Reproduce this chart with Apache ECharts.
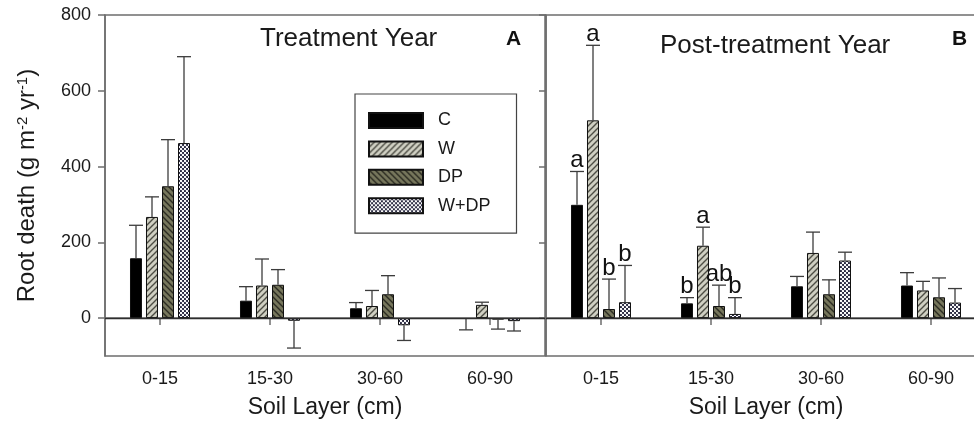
<!DOCTYPE html>
<html lang="en">
<head>
<meta charset="UTF-8">
<title>Root death</title>
<script src="https://cdn.jsdelivr.net/npm/echarts@6/dist/echarts.min.js"></script>
<style>
  html, body { margin: 0; padding: 0; background: #fff; }
  #chart { width: 974px; height: 421px; }
</style>
</head>
<body>
<div id="chart"></div>
<script>
var layers = ['0-15', '15-30', '30-60', '60-90'];
var treatments = ['C', 'W', 'DP', 'W+DP'];
var yTicks = [0, 200, 400, 600, 800];

// A: treatment year, means and SE
var treatC = [158, 46, 26, -2];
var treatW = [267, 86, 32, 35];
var treatDP = [348, 88, 63, -4];
var treatWDP = [462, -7, -19, -8];
var treatC_se = [87, 37, 15, 29];
var treatW_se = [53, 70, 41, 7];
var treatDP_se = [123, 40, 49, 25];
var treatWDP_se = [228, 72, 40, 26];

// B: post-treatment year
var postC = [299, 39, 84, 86];
var postW = [522, 191, 172, 73];
var postDP = [24, 32, 63, 55];
var postWDP = [42, 11, 152, 41];
var postC_se = [88, 15, 26, 34];
var postW_se = [198, 49, 55, 24];
var postDP_se = [79, 55, 38, 51];
var postWDP_se = [97, 43, 22, 37];

// letters over the post-treatment bars
var postC_sig = ['a', 'b', '', ''];
var postW_sig = ['a', 'a', '', ''];
var postDP_sig = ['b', 'ab', '', ''];
var postWDP_sig = ['b', 'b', '', ''];

var FONT = '"Liberation Sans", Arial, sans-serif';
var offsets = [-24, -8, 8, 24];

function hatch(bg, fg, up) {
  var c = document.createElement('canvas');
  c.width = 6; c.height = 6;
  var g = c.getContext('2d');
  g.fillStyle = bg; g.fillRect(0, 0, 6, 6);
  g.strokeStyle = fg; g.lineWidth = 1.4;
  g.beginPath();
  if (up) {
    g.moveTo(0, 6); g.lineTo(6, 0);
    g.moveTo(-3, 3); g.lineTo(3, -3);
    g.moveTo(3, 9); g.lineTo(9, 3);
  } else {
    g.moveTo(0, 0); g.lineTo(6, 6);
    g.moveTo(-3, 3); g.lineTo(3, 9);
    g.moveTo(3, -3); g.lineTo(9, 3);
  }
  g.stroke();
  return c;
}
function dots() {
  var c = document.createElement('canvas');
  c.width = 4; c.height = 4;
  var g = c.getContext('2d');
  g.fillStyle = '#26263e'; g.fillRect(0, 0, 4, 4);
  g.fillStyle = '#ffffff';
  g.beginPath(); g.arc(1, 1, 1.2, 0, Math.PI * 2); g.fill();
  g.beginPath(); g.arc(3, 3, 1.2, 0, Math.PI * 2); g.fill();
  return c;
}

var colors = [
  '#000000',
  { image: hatch('#cfcfc2', '#4d4d44', true), repeat: 'repeat' },
  { image: hatch('#76765c', '#2c2c22', false), repeat: 'repeat' },
  { image: dots(), repeat: 'repeat' }
];

function errData(vals, ses) {
  var out = [];
  for (var s = 0; s < vals.length; s++) {
    for (var i = 0; i < vals[s].length; i++) {
      out.push([i, s, vals[s][i], ses[s][i]]);
    }
  }
  return out;
}

function errRender(sig) {
  return function (params, api) {
    var cat = api.value(0), s = api.value(1), v = api.value(2), se = api.value(3);
    var end = v >= 0 ? v + se : v - se;
    var x = api.coord([cat, 0])[0] + offsets[s];
    var y0 = api.coord([cat, v])[1];
    var y1 = api.coord([cat, end])[1];
    var st = { stroke: '#3c3c3c', lineWidth: 1.3 };
    var kids = [
      { type: 'line', shape: { x1: x, y1: y0, x2: x, y2: y1 }, style: st },
      { type: 'line', shape: { x1: x - 7, y1: y1, x2: x + 7, y2: y1 }, style: st }
    ];
    if (sig && sig[s][cat]) {
      kids.push({
        type: 'text',
        style: { text: sig[s][cat], x: x, y: y1 + 1, align: 'center', verticalAlign: 'bottom',
          fontSize: 24, fontFamily: FONT, fill: '#111' }
      });
    }
    return { type: 'group', children: kids };
  };
}

var chart = echarts.init(document.getElementById('chart'));

var axisLineStyle = { color: '#6e6e6e', width: 1.5 };
function xAxis(idx) {
  return {
    type: 'category', gridIndex: idx, data: layers,
    axisLine: { show: true, lineStyle: axisLineStyle },
    axisTick: { show: true, alignWithLabel: true, length: 7, lineStyle: axisLineStyle },
    axisLabel: { fontSize: 18, fontFamily: FONT, color: '#1a1a1a', margin: 14 },
    name: 'Soil Layer (cm)', nameLocation: 'middle', nameGap: 40,
    nameTextStyle: { fontSize: 23, fontFamily: FONT, color: '#1a1a1a' }
  };
}
function yAxis(idx, withLabels) {
  var ax = {
    type: 'value', gridIndex: idx, min: -100, max: 800,
    splitLine: { show: false },
    axisLine: { show: true, lineStyle: axisLineStyle },
    axisTick: { show: true, length: 7, customValues: yTicks, lineStyle: axisLineStyle },
    axisLabel: { show: withLabels, customValues: yTicks, fontSize: 18, fontFamily: FONT, color: '#1a1a1a', margin: 14 }
  };
  if (withLabels) {
    ax.name = 'Root death (g m{s|-2} yr{s|-1})';
    ax.nameLocation = 'middle';
    ax.nameGap = 66;
    ax.nameRotate = 90;
    ax.nameTextStyle = {
      fontSize: 24, fontFamily: FONT, color: '#1a1a1a',
      rich: { s: { fontSize: 15, fontFamily: FONT, color: '#1a1a1a', verticalAlign: 'top', lineHeight: 14 } }
    };
  }
  return ax;
}

var series = [];
var setsA = [treatC, treatW, treatDP, treatWDP];
var setsB = [postC, postW, postDP, postWDP];
[setsA, setsB].forEach(function (sets, g) {
  sets.forEach(function (vals, s) {
    var item = {
      name: treatments[s], type: 'bar', xAxisIndex: g, yAxisIndex: g,
      data: vals, barWidth: 12, barGap: '33.4%',
      itemStyle: { color: colors[s], borderColor: '#111', borderWidth: 1 }
    };
    if (s === 0) {
      item.markLine = {
        silent: true, symbol: 'none', label: { show: false },
        lineStyle: { color: '#2e2e2e', width: 1.3, type: 'solid' },
        data: [{ yAxis: 0 }]
      };
    }
    series.push(item);
  });
});
series.push({
  name: 'errA', type: 'custom', xAxisIndex: 0, yAxisIndex: 0, z: 3,
  renderItem: errRender(null),
  data: errData(setsA, [treatC_se, treatW_se, treatDP_se, treatWDP_se])
});
series.push({
  name: 'errB', type: 'custom', xAxisIndex: 1, yAxisIndex: 1, z: 3,
  renderItem: errRender([postC_sig, postW_sig, postDP_sig, postWDP_sig]),
  data: errData(setsB, [postC_se, postW_se, postDP_se, postWDP_se])
});

chart.setOption({
  animation: false,
  grid: [
    { left: 105, top: 15, width: 440, height: 341, show: true, borderColor: '#6e6e6e', borderWidth: 1.5,
      outerBoundsMode: 'none', containLabel: false },
    { left: 546, top: 15, width: 440, height: 341, show: true, borderColor: '#6e6e6e', borderWidth: 1.5,
      outerBoundsMode: 'none', containLabel: false }
  ],
  xAxis: [xAxis(0), xAxis(1)],
  yAxis: [yAxis(0, true), yAxis(1, false)],
  legend: {
    data: treatments, orient: 'vertical', left: 355, top: 94,
    icon: 'rect', itemWidth: 54, itemHeight: 15, itemGap: 10.4,
    padding: [17.5, 26, 18.5, 13],
    borderColor: '#444', borderWidth: 1.2, backgroundColor: '#fff',
    selectedMode: false,
    textStyle: { fontSize: 18, fontFamily: FONT, color: '#1a1a1a', padding: [0, 0, 0, 10] }
  },
  graphic: [
    { type: 'text', style: { text: 'Treatment Year', x: 260, y: 39.3, verticalAlign: 'middle', fontSize: 26, fontFamily: FONT, fill: '#1a1a1a' } },
    { type: 'text', style: { text: 'A', x: 506, y: 39.4, verticalAlign: 'middle', fontSize: 21, fontWeight: 'bold', fontFamily: FONT, fill: '#111' } },
    { type: 'text', style: { text: 'Post-treatment Year', x: 660, y: 46, verticalAlign: 'middle', fontSize: 26, fontFamily: FONT, fill: '#1a1a1a' } },
    { type: 'text', style: { text: 'B', x: 952, y: 39.4, verticalAlign: 'middle', fontSize: 21, fontWeight: 'bold', fontFamily: FONT, fill: '#111' } }
  ],
  series: series
});
</script>
</body>
</html>
